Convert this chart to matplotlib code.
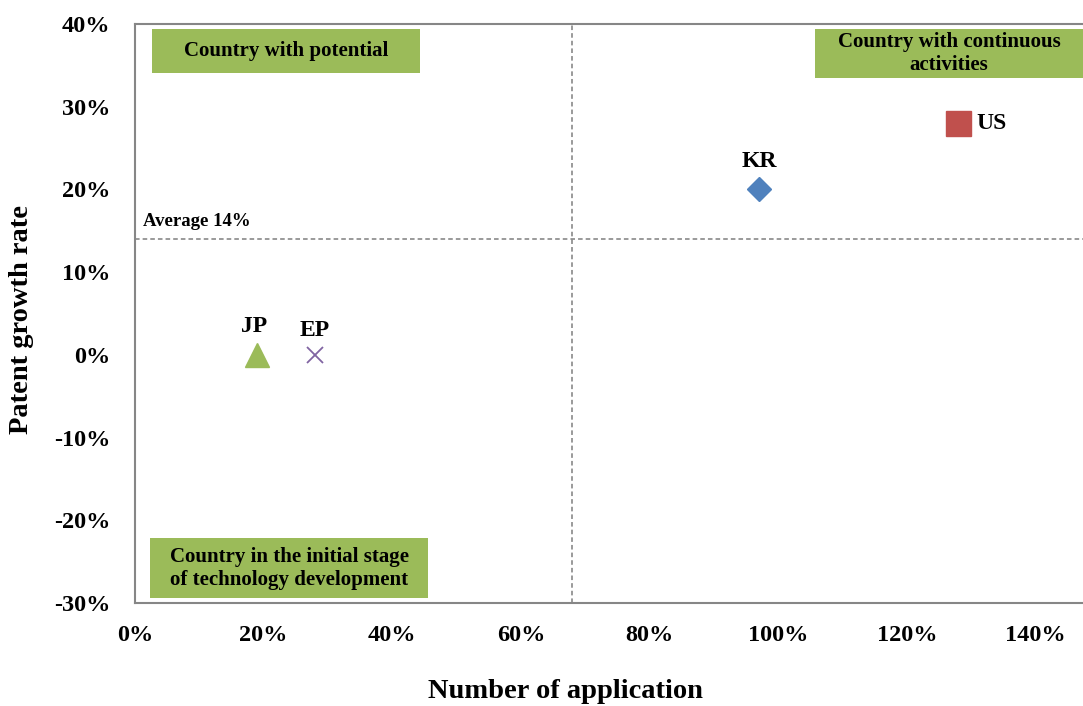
import matplotlib.pyplot as plt
import matplotlib
from matplotlib.patches import Rectangle
from matplotlib.ticker import PercentFormatter

matplotlib.rc('font', family='Liberation Serif', weight='bold')
matplotlib.rc('axes', unicode_minus=False, labelweight='bold')

# share of applications vs. patent growth rate, per office
countries = ['KR', 'US', 'JP', 'EP']
applications = [0.97, 1.28, 0.19, 0.28]
growth = [0.20, 0.28, 0.0, 0.0]
avg_applications = 0.68
avg_growth = 0.14

markers = ['D', 's', '^', 'x']
colors = ['#4F81BD', '#C0504D', '#9BBB59', '#8064A2']
sizes = [12, 18, 17, 11]

fig = plt.figure(figsize=(10.83, 7.06), dpi=100)
ax = fig.add_axes([0.1247, 0.1459, 0.8753, 0.8201])
ax.set_xlim(0, 1.474)
ax.set_ylim(-0.30, 0.40)

for name, x, y, m, c, s in zip(countries, applications, growth, markers, colors, sizes):
    if m == 'x':
        ax.plot(x, y, marker=m, color=c, markersize=s, markeredgewidth=1.3, linestyle='none')
    else:
        ax.plot(x, y, marker=m, color=c, markersize=s, markeredgecolor=c, linestyle='none')

# point labels
ax.text(applications[0], growth[0] + 0.021, countries[0], ha='center', va='bottom', fontsize=17)
ax.text(applications[1] + 0.028, growth[1], countries[1], ha='left', va='center', fontsize=17)
ax.text(applications[2] - 0.005, growth[2] + 0.021, countries[2], ha='center', va='bottom', fontsize=17)
ax.text(applications[3], growth[3] + 0.017, countries[3], ha='center', va='bottom', fontsize=17)

# average lines
ax.axvline(avg_applications, color='#7f7f7f', linestyle=(0, (3, 2)), linewidth=1.1)
ax.axhline(avg_growth, color='#7f7f7f', linestyle=(0, (3, 2)), linewidth=1.1)
ax.text(0.012, avg_growth + 0.011, 'Average 14%', fontsize=13.5, ha='left', va='bottom')

# quadrant captions
boxes = [
    ((0.026, 0.341), 0.417, 0.053, 'Country with potential'),
    ((1.058, 0.335), 0.43, 0.059, 'Country with continuous\nactivities'),
    ((0.023, -0.294), 0.433, 0.0725, 'Country in the initial stage\nof technology development'),
]
for (x0, y0), w, h, txt in boxes:
    ax.add_patch(Rectangle((x0, y0), w, h, facecolor='#9BBB59', edgecolor='none', zorder=1))
cx = [0.026 + 0.417 / 2, 1.058 + 0.416 / 2, 0.023 + 0.433 / 2]
ax.text(cx[0], 0.341 + 0.053 / 2, boxes[0][3], ha='center', va='center', fontsize=15, zorder=2)
ax.text(cx[1], 0.335 + 0.059 / 2, boxes[1][3], ha='center', va='center', fontsize=15,
        linespacing=1.2, zorder=2)
ax.text(cx[2], -0.294 + 0.0725 / 2, boxes[2][3], ha='center', va='center', fontsize=15,
        linespacing=1.2, zorder=2)

ax.xaxis.set_major_formatter(PercentFormatter(1.0, decimals=0))
ax.yaxis.set_major_formatter(PercentFormatter(1.0, decimals=0))
ax.set_xticks([0, 0.2, 0.4, 0.6, 0.8, 1.0, 1.2, 1.4])
ax.set_yticks([-0.3, -0.2, -0.1, 0, 0.1, 0.2, 0.3, 0.4])
ax.tick_params(length=0, labelsize=17.5)
ax.tick_params(axis='x', pad=16)
ax.tick_params(axis='y', pad=18)

for side in ['left', 'top', 'bottom']:
    ax.spines[side].set_color('#868686')
    ax.spines[side].set_linewidth(1.5)
ax.spines['right'].set_visible(False)

ax.set_xlabel('Number of application', fontsize=20.5)
ax.xaxis.set_label_coords(0.4536, -0.131)
ax.set_ylabel('Patent growth rate', fontsize=20.5)
ax.yaxis.set_label_coords(-0.107, 0.49)

plt.savefig('out.png', dpi=100)
